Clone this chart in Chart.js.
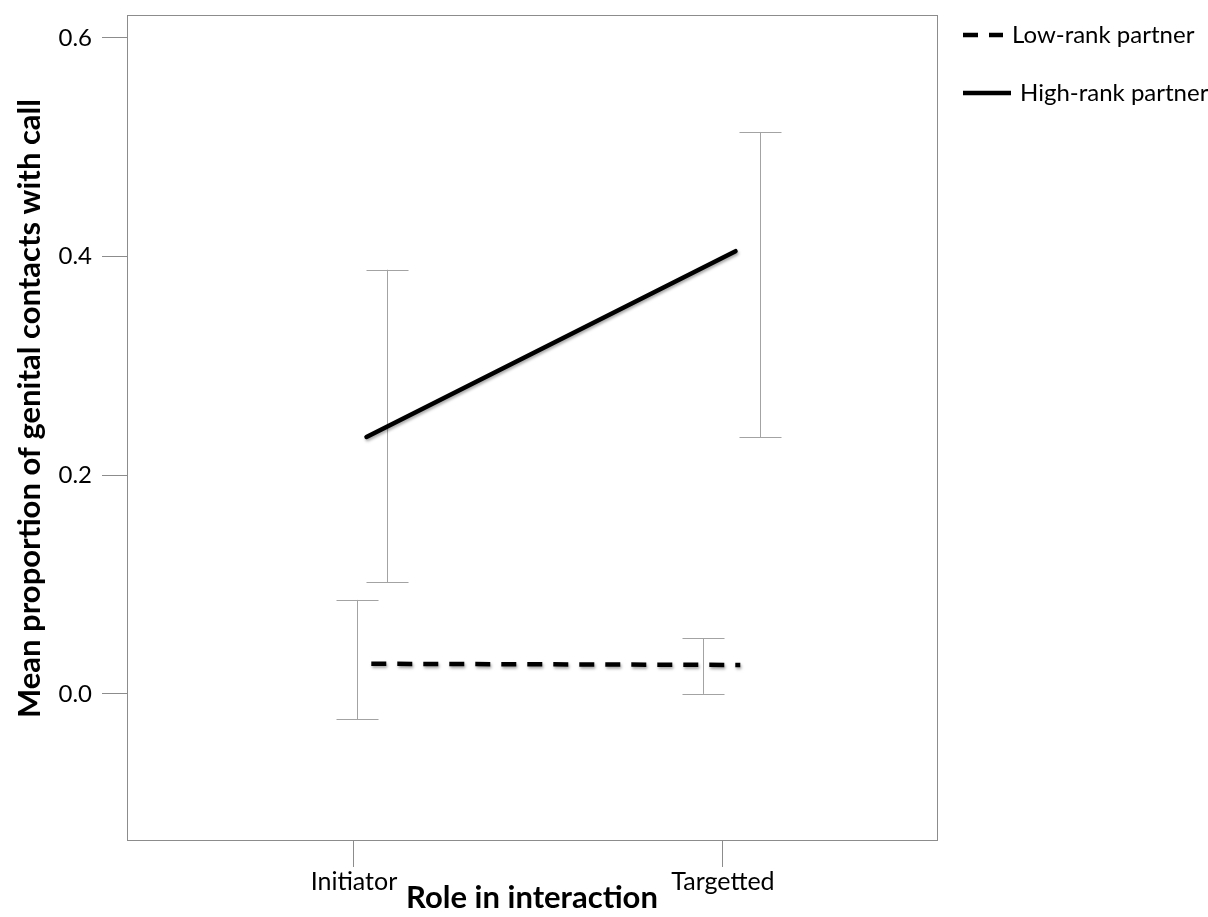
<!DOCTYPE html>
<html>
<head>
<meta charset="utf-8">
<script src="https://cdn.jsdelivr.net/npm/chart.js@4.4.1/dist/chart.umd.min.js"></script>
<style>
  html, body { margin: 0; padding: 0; background: #fff; }
</style>
</head>
<body>
<canvas id="chart" width="1208" height="917"></canvas>
<script>
// categories + values
const roles = ['Initiator', 'Targetted'];
const yTicks = [0.0, 0.2, 0.4, 0.6];

const lowRankMean = [0.0276, 0.0265];
const lowRankLower = [-0.023, 0.0];
const lowRankUpper = [0.086, 0.051];

const highRankMean = [0.235, 0.405];
const highRankLower = [0.102, 0.235];
const highRankUpper = [0.388, 0.514];

// horizontal dodge of the marks, in category units
const lowLineShift = 0.047;
const highLineShift = 0.034;
const lowBarShift = [0.008, -0.054];
const highBarShift = [0.09, 0.1];

const yTitle = 'Mean proportion of genital contacts with call';

const axisGray = '#8c8c8c';
const barGray = '#a3a3a3';
const fontFamily = 'Lato, "Open Sans", sans-serif';

function points(means, shift) {
    return means.map(function (m, i) { return { x: i + shift, y: m }; });
}

var errorBars = [
    { lower: lowRankLower, upper: lowRankUpper, shift: lowBarShift },
    { lower: highRankLower, upper: highRankUpper, shift: highBarShift }
];

// error bars drawn behind the lines, through the chart scales
var errorBarPlugin = {
    id: 'errorBars',
    beforeDatasetsDraw: function (chart) {
        var ctx = chart.ctx, xs = chart.scales.x, ys = chart.scales.y;
        var cap = 21;
        ctx.save();
        ctx.strokeStyle = barGray;
        ctx.lineWidth = 1;
        errorBars.forEach(function (eb) {
            eb.lower.forEach(function (lo, i) {
                var px = Math.round(xs.getPixelForValue(i + eb.shift[i])) + 0.5;
                var top = ys.getPixelForValue(eb.upper[i]);
                var bot = ys.getPixelForValue(lo);
                ctx.beginPath();
                ctx.moveTo(px, top); ctx.lineTo(px, bot);
                ctx.moveTo(px - cap, Math.round(top) + 0.5); ctx.lineTo(px + cap, Math.round(top) + 0.5);
                ctx.moveTo(px - cap, Math.round(bot) + 0.5); ctx.lineTo(px + cap, Math.round(bot) + 0.5);
                ctx.stroke();
            });
        });
        ctx.restore();
        // soft shadow under the mean lines
        ctx.save();
        ctx.shadowColor = 'rgba(0,0,0,0.35)';
        ctx.shadowBlur = 3;
        ctx.shadowOffsetX = 1;
        ctx.shadowOffsetY = 2;
    },
    afterDatasetsDraw: function (chart) {
        chart.ctx.restore();
    }
};

// box round the plot, y title (sits a bit above centre), legend at the right
var framePlugin = {
    id: 'frame',
    afterDraw: function (chart) {
        var ctx = chart.ctx, a = chart.chartArea;
        ctx.save();
        ctx.strokeStyle = axisGray;
        ctx.lineWidth = 1;
        ctx.strokeRect(Math.round(a.left) + 0.5, Math.round(a.top) + 0.5,
            Math.round(a.right - a.left), Math.round(a.bottom - a.top));

        ctx.save();
        ctx.translate(30, (a.top + a.bottom) / 2 - 19);
        ctx.rotate(-Math.PI / 2);
        ctx.fillStyle = '#000';
        ctx.font = 'bold 31px ' + fontFamily;
        ctx.textAlign = 'center';
        ctx.textBaseline = 'middle';
        ctx.fillText(yTitle, 0, 0);
        ctx.restore();

        var x0 = a.right + 26;
        var rows = [20, 78];
        chart.data.datasets.forEach(function (ds, i) {
            var y = a.top + rows[i];
            var len = ds.borderDash && ds.borderDash.length ? 40 : 48;
            ctx.strokeStyle = '#000';
            ctx.lineWidth = ds.borderWidth;
            ctx.setLineDash(ds.borderDash || []);
            ctx.beginPath();
            ctx.moveTo(x0, y); ctx.lineTo(x0 + len, y);
            ctx.stroke();
            ctx.setLineDash([]);
            ctx.fillStyle = '#000';
            ctx.font = '24px ' + fontFamily;
            ctx.textBaseline = 'middle';
            ctx.fillText(ds.label, x0 + len + 9, y);
        });
        ctx.restore();
    }
};

var ctx = document.getElementById('chart');
var chart = new Chart(ctx, {
    type: 'line',
    data: {
        datasets: [
            {
                label: 'Low-rank partner',
                data: points(lowRankMean, lowLineShift),
                borderColor: '#000',
                borderWidth: 4.5,
                borderDash: [15, 11],
                borderCapStyle: 'butt',
                pointRadius: 0,
                fill: false
            },
            {
                label: 'High-rank partner',
                data: points(highRankMean, highLineShift),
                borderColor: '#000',
                borderWidth: 4.5,
                borderCapStyle: 'round',
                pointRadius: 0,
                fill: false
            }
        ]
    },
    options: {
        responsive: false,
        animation: false,
        layout: { padding: { top: 15, right: 271, left: 0, bottom: 0 } },
        plugins: {
            legend: { display: false },
            tooltip: { enabled: false }
        },
        scales: {
            x: {
                type: 'linear',
                min: -0.615,
                max: 1.58,
                afterBuildTicks: function (scale) {
                    scale.ticks = roles.map(function (r, i) { return { value: i }; });
                },
                afterFit: function (scale) { scale.height = 77; },
                ticks: {
                    callback: function (v) { return roles[v]; },
                    color: '#000',
                    font: { family: fontFamily, size: 25 },
                    padding: 0,
                    maxRotation: 0
                },
                grid: {
                    drawOnChartArea: false,
                    drawTicks: true,
                    tickLength: 27,
                    color: axisGray
                },
                border: { display: true, color: axisGray },
                title: {
                    display: true,
                    text: 'Role in interaction',
                    color: '#000',
                    font: { family: fontFamily, size: 31, weight: 'bold' },
                    padding: { top: 0, bottom: 0 }
                }
            },
            y: {
                type: 'linear',
                min: -0.1336,
                max: 0.621,
                afterBuildTicks: function (scale) {
                    scale.ticks = yTicks.map(function (v) { return { value: v }; });
                },
                afterFit: function (scale) {
                    scale.width = 127;
                    scale.paddingTop = 0;
                    scale.paddingBottom = 0;
                },
                ticks: {
                    callback: function (v) { return v.toFixed(1); },
                    color: '#000',
                    font: { family: fontFamily, size: 24 },
                    padding: 10
                },
                grid: {
                    drawOnChartArea: false,
                    drawTicks: true,
                    tickLength: 25,
                    color: axisGray
                },
                border: { display: true, color: axisGray },
                title: { display: false }
            }
        }
    },
    plugins: [errorBarPlugin, framePlugin]
});
</script>
</body>
</html>
